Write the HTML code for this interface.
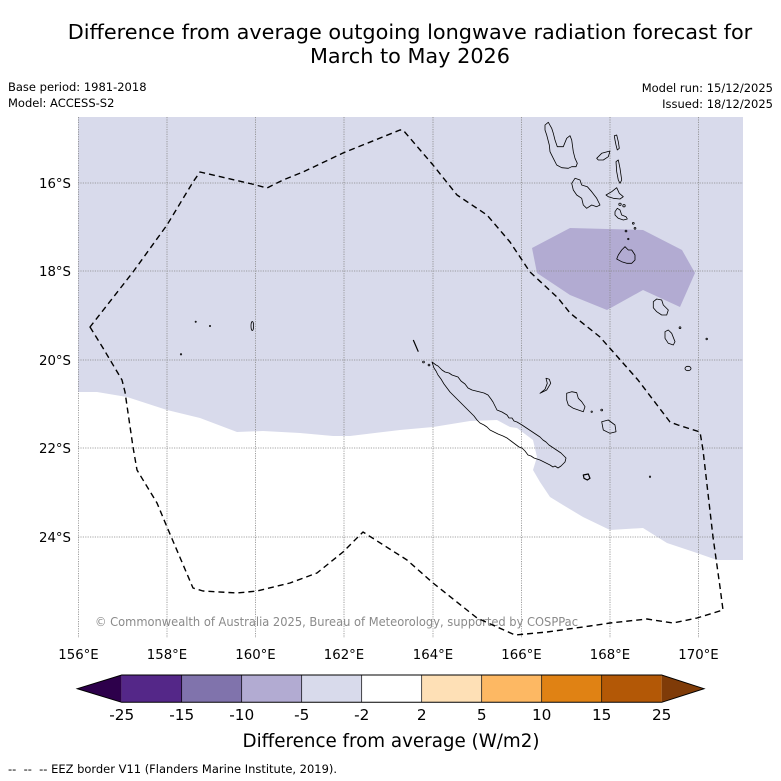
<!DOCTYPE html>
<html>
<head>
<meta charset="utf-8">
<style>
  html,body{margin:0;padding:0;background:#fff;}
  svg{display:block;font-family:"DejaVu Sans","Liberation Sans",sans-serif;}
</style>
</head>
<body>
<svg width="781" height="781" viewBox="0 0 781 781" xmlns="http://www.w3.org/2000/svg">
  <rect x="0" y="0" width="781" height="781" fill="#fff"/>

  <!-- Title -->
  <text x="410" y="39" font-size="20.8" text-anchor="middle" fill="#000">Difference from average outgoing longwave radiation forecast for</text>
  <text x="410" y="63" font-size="20.8" text-anchor="middle" fill="#000">March to May 2026</text>

  <!-- Header info -->
  <text x="8" y="91" font-size="11.5" fill="#000">Base period: 1981-2018</text>
  <text x="8" y="107" font-size="11.5" fill="#000">Model: ACCESS-S2</text>
  <text x="773" y="92" font-size="11.5" text-anchor="end" fill="#000">Model run: 15/12/2025</text>
  <text x="773" y="108" font-size="11.5" text-anchor="end" fill="#000">Issued: 18/12/2025</text>

  <defs>
    <clipPath id="map">
      <rect x="78" y="117" width="665" height="521"/>
    </clipPath>
  </defs>

  <g clip-path="url(#map)">
    <rect x="78" y="117" width="665" height="521" fill="#fff"/>
    <!-- -5..-2 region -->
    <polygon fill="#d8daeb" points="78,117 743,117 743,560 717,560 697,553 667,543 643,528 610,530 583,517 563,505 550,497 540,482 533,470 537,457 533,440 517,428 510,427 497,420 470,421 433,427 400,430 350,436 333,436 300,433 263,431 237,432 200,418 167,410 127,397 97,392 78,392"/>
    <!-- -10..-5 region -->
    <polygon fill="#b2abd2" points="532,248 570,228 643,230 682,250 695,273 680,307 643,290 607,310 570,295 537,273"/>

    <!-- Gridlines -->
    <g stroke="#888" stroke-width="0.8" stroke-dasharray="1.2,1.2" fill="none">
      <line x1="78.5" y1="117" x2="78.5" y2="638"/>
      <line x1="167" y1="117" x2="167" y2="638"/>
      <line x1="255.5" y1="117" x2="255.5" y2="638"/>
      <line x1="344" y1="117" x2="344" y2="638"/>
      <line x1="433" y1="117" x2="433" y2="638"/>
      <line x1="521.5" y1="117" x2="521.5" y2="638"/>
      <line x1="610" y1="117" x2="610" y2="638"/>
      <line x1="698.5" y1="117" x2="698.5" y2="638"/>
      <line x1="78" y1="183" x2="743" y2="183"/>
      <line x1="78" y1="271" x2="743" y2="271"/>
      <line x1="78" y1="360" x2="743" y2="360"/>
      <line x1="78" y1="448" x2="743" y2="448"/>
      <line x1="78" y1="537" x2="743" y2="537"/>
    </g>

    <!-- Coastlines -->
    <g stroke="#000" stroke-width="0.8" fill="none" stroke-linejoin="round">
      <polygon points="545,125 548.3,122.3 551.7,128.3 553.3,133.3 555,140 557.3,146.7 563.3,146.7 566.7,138.3 570,135.7 571.7,140 573.3,151.7 575,158.3 577.3,163.3 576,166.7 571.7,166.7 568.3,168.3 561.7,167.7 556.7,165 553.3,158.3 550,151.7 549.3,145 546.7,135 545,130"/>
      <polygon points="596.7,158.3 601.7,153.3 610,151 608.3,156.7 603.3,160 598.3,160"/>
      <polygon points="614.3,135.7 616.7,135 618.3,141.7 619.3,148.3 617.3,150 616,145 615,140"/>
      <polygon points="616,161.7 618.3,160 620,168.3 621.7,180 620,183.3 618.3,180 616.7,171.7"/>
      <polygon points="571.7,183.3 575,178.3 580,180 581.7,185 587.3,186.7 591.7,191.7 596.7,198.3 600,205 596.7,206.7 591.7,205 586.7,208.3 583.3,205 581.7,198.3 576.7,195 573.3,190"/>
      <polygon points="606,195 611.7,191.7 616.7,187.7 619.3,193.3 623.3,196.7 620,199 613.3,198.3 608.3,196.7"/>
      <circle cx="620" cy="204.3" r="1.2"/>
      <circle cx="624" cy="205.7" r="1.2"/>
      <polygon points="615,211.7 617.3,208.3 620,210 621.7,215 626,216.7 627.3,219 623.3,220 618.3,218.3 615,215"/>
      <circle cx="633.3" cy="223.3" r="0.9"/>
      <circle cx="635" cy="228.3" r="0.9"/>
      <circle cx="626" cy="231" r="0.9"/>
      <circle cx="628.3" cy="239" r="0.7"/>
      <polygon points="618.3,255 621.7,250 625,246.7 628.3,250 631.7,250 635,255 635,260 631.7,263.3 626.7,263.3 621.7,261.7 616.7,259"/>
      <polygon points="653.3,301.7 656.7,299 661.7,300 663.3,305 668.3,310 666.7,315 661.7,315 656.7,311.7 653.3,307.7"/>
      <polygon points="665,331.7 668.3,330 671.7,333.3 675,341.7 673.3,345 668.3,343.3 665,338.3"/>
      <circle cx="680" cy="327.7" r="0.9"/>
      <circle cx="706.7" cy="339" r="0.8"/>
      <ellipse cx="688" cy="368.5" rx="3" ry="2.2"/>

      <polygon points="432,362 436,365 438,366 442,370 445,372 449,373 452,375 455,376 458,377 461,381 465,384 468,388 472,390 476,391 480,392 484,393 488,395 491,399 493,402 495,406 497,410 502,412 507,415 509,418 512,418 514,421 517,422 522,425 528,429 534,433 540,437 543,440 546,442 549,445 552,447 555,449 558,451 561,453 563,455 566,458 565,462 561,466 558,468 555,466 553,467 550,465 548,464 544,462 540,460 537,459 534,458 531,456 528,455 525,451 522,448 519,447 515,444 511,441 507,438 503,436 498,434 494,432 490,430 487,427 484,425 480,423 477,420 474,416 471,413 467,409 463,405 460,402 456,398 453,395 450,392 447,388 444,384 441,379 438,375 436,371 434,368"/>
      <line x1="413.3" y1="340" x2="418.3" y2="351.7" stroke-width="1.2"/>
      <circle cx="423.5" cy="362" r="0.9"/>
      <circle cx="429" cy="365" r="0.9"/>
      <polygon points="546,378.3 549.3,379.3 550.7,383.3 546.7,390 540,393.3 545,389.3 547.3,383.3"/>
      <polygon points="566.7,393.3 571.7,391.7 576.7,392.7 578.3,398.3 581.7,401.7 585,406.7 583.3,411.7 578.3,410 573.3,408.3 568.3,405 566.7,400"/>
      <circle cx="591.7" cy="411.7" r="0.7"/>
      <circle cx="601.7" cy="410" r="0.9"/>
      <polygon points="601.7,421.7 608.3,420 615,425 616,431.7 610,433.3 603.3,430"/>
      <polygon points="583.3,475 588.3,474 590,478.3 587.3,480 584,478.3" stroke-width="1.2"/>
      <circle cx="650" cy="476.7" r="0.7"/>

      <ellipse cx="252.3" cy="326" rx="1.3" ry="4.5"/>
      <circle cx="195.7" cy="321.7" r="0.6"/>
      <circle cx="210" cy="326" r="0.6"/>
      <circle cx="181" cy="354.3" r="0.7"/>
    </g>

    <!-- Copyright -->
    <text x="95" y="626" font-size="12.3" fill="#8a8a8a" textLength="483" lengthAdjust="spacingAndGlyphs">© Commonwealth of Australia 2025, Bureau of Meteorology, supported by COSPPac</text>

    <!-- EEZ border -->
    <path fill="none" stroke="#000" stroke-width="1.4" stroke-dasharray="6,4" stroke-linejoin="round"
      d="M90,327 L103,348 L122,380 L125,392 L133,447 L137,470 L157,503 L167,527 L193,588 L203,591 L237,593 L257,591 L290,583 L317,573 L343,552 L363,532 L407,560 L433,583 L477,618 L515,635 L547,632 L590,626 L610,623 L647,619 L673,623 L697,618 L723,610 L720,587 L713,537 L703,450 L700,432 L678,425 L670,422 L638,380 L600,337 L570,313 L558,298 L530,272 L510,242 L487,215 L457,195 L433,165 L403,130 L400,130 L343,153 L303,172 L283,180 L267,188 L252,184 L200,172 L193,182 L167,225 L133,272 Z"/>
  </g>

  <!-- Y tick labels -->
  <g font-size="13.3" text-anchor="end" fill="#000">
    <text x="71" y="188">16°S</text>
    <text x="71" y="276">18°S</text>
    <text x="71" y="365">20°S</text>
    <text x="71" y="453">22°S</text>
    <text x="71" y="542">24°S</text>
  </g>
  <!-- X tick labels -->
  <g font-size="13.3" text-anchor="middle" fill="#000">
    <text x="78.5" y="659">156°E</text>
    <text x="167" y="659">158°E</text>
    <text x="255.5" y="659">160°E</text>
    <text x="344" y="659">162°E</text>
    <text x="433" y="659">164°E</text>
    <text x="521.5" y="659">166°E</text>
    <text x="610" y="659">168°E</text>
    <text x="698.5" y="659">170°E</text>
  </g>

  <!-- Colorbar -->
  <g stroke="none">
    <polygon points="121.7,675 121.7,702.3 77.3,688.7" fill="#2d004b"/>
    <rect x="121.7" y="675" width="60" height="27.3" fill="#542788"/>
    <rect x="181.7" y="675" width="60" height="27.3" fill="#8073ac"/>
    <rect x="241.7" y="675" width="60" height="27.3" fill="#b2abd2"/>
    <rect x="301.7" y="675" width="60" height="27.3" fill="#d8daeb"/>
    <rect x="361.7" y="675" width="60" height="27.3" fill="#ffffff"/>
    <rect x="421.7" y="675" width="60" height="27.3" fill="#fee0b6"/>
    <rect x="481.7" y="675" width="60" height="27.3" fill="#fdb863"/>
    <rect x="541.7" y="675" width="60" height="27.3" fill="#e08214"/>
    <rect x="601.7" y="675" width="60" height="27.3" fill="#b35806"/>
    <polygon points="661.7,675 661.7,702.3 704,688.7" fill="#7f3b08"/>
  </g>
  <g stroke="#000" stroke-width="0.7">
    <line x1="181.7" y1="675" x2="181.7" y2="702.3"/>
    <line x1="241.7" y1="675" x2="241.7" y2="702.3"/>
    <line x1="301.7" y1="675" x2="301.7" y2="702.3"/>
    <line x1="361.7" y1="675" x2="361.7" y2="702.3"/>
    <line x1="421.7" y1="675" x2="421.7" y2="702.3"/>
    <line x1="481.7" y1="675" x2="481.7" y2="702.3"/>
    <line x1="541.7" y1="675" x2="541.7" y2="702.3"/>
    <line x1="601.7" y1="675" x2="601.7" y2="702.3"/>
  </g>
  <polygon points="77.3,688.7 121.7,675 661.7,675 704,688.7 661.7,702.3 121.7,702.3" fill="none" stroke="#000" stroke-width="1"/>
  <g font-size="15.3" text-anchor="middle" fill="#000">
    <text x="121.7" y="720">-25</text>
    <text x="181.7" y="720">-15</text>
    <text x="241.7" y="720">-10</text>
    <text x="301.7" y="720">-5</text>
    <text x="361.7" y="720">-2</text>
    <text x="421.7" y="720">2</text>
    <text x="481.7" y="720">5</text>
    <text x="541.7" y="720">10</text>
    <text x="601.7" y="720">15</text>
    <text x="661.7" y="720">25</text>
  </g>
  <text x="391" y="747" font-size="18.3" text-anchor="middle" fill="#000">Difference from average (W/m2)</text>

  <!-- Footer -->
  <text x="8" y="773" font-size="11.3" fill="#000" xml:space="preserve" textLength="329" lengthAdjust="spacingAndGlyphs">--&#160;&#160;--&#160;&#160;-- EEZ border V11 (Flanders Marine Institute, 2019).</text>
</svg>
</body>
</html>
